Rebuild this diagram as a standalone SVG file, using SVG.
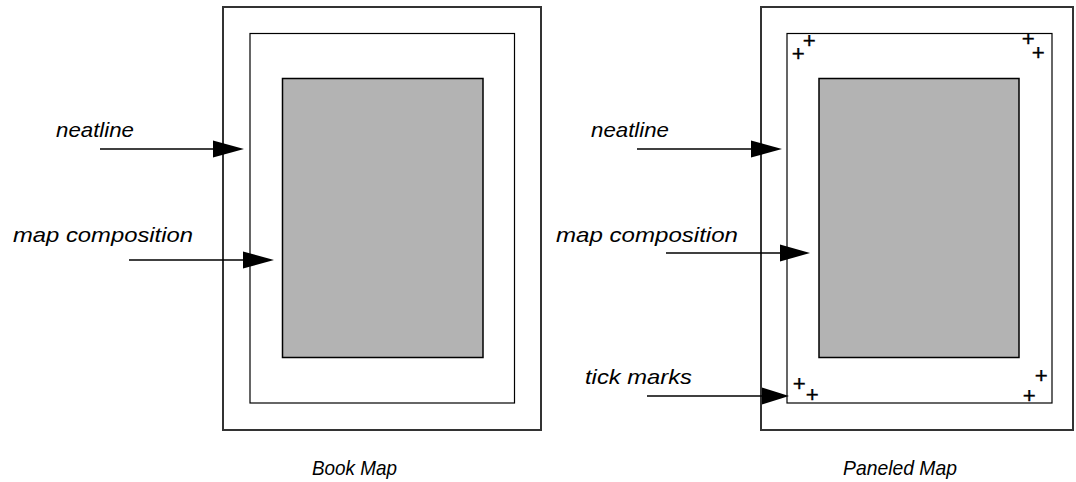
<svg xmlns="http://www.w3.org/2000/svg" width="1076" height="482" viewBox="0 0 1076 482">
<style>
.outer{fill:#fff;stroke:#333;stroke-width:2}
.inner{fill:#fff;stroke:#000;stroke-width:1.2}
.comp{fill:#b3b3b3;stroke:#000;stroke-width:1.5}
.lbl{font-family:"Liberation Sans",Arial,sans-serif;font-style:italic;font-size:21px;fill:#000}
.cap{font-family:"Liberation Sans",Arial,sans-serif;font-style:italic;font-size:21px;fill:#000}
.tick{font-family:"Liberation Sans",Arial,sans-serif;font-style:italic;font-size:22px;fill:#000;stroke:#000;stroke-width:0.4;text-anchor:middle}
.conn{stroke:#000;stroke-width:1.5;fill:none}
.head{fill:#000}
</style>
<rect width="1076" height="482" fill="#fff"/>
<g id="book-map">
<rect class="outer" x="223" y="7" width="318" height="423"/>
<rect class="inner" x="250" y="33.5" width="264.5" height="369.5"/>
<rect class="comp" x="282.5" y="78.5" width="200.5" height="279"/>
<text class="cap" x="312" y="475" textLength="85" lengthAdjust="spacingAndGlyphs">Book Map</text>
</g>
<g id="paneled-map">
<rect class="outer" x="761" y="7" width="312" height="423"/>
<rect class="inner" x="787" y="33.5" width="265" height="369.5"/>
<rect class="comp" x="819" y="78.5" width="200" height="279"/>
<g id="tick-marks">
<text class="tick" x="798" y="61">+</text>
<text class="tick" x="809" y="48">+</text>
<text class="tick" x="1028" y="46">+</text>
<text class="tick" x="1038" y="60">+</text>
<text class="tick" x="799" y="391">+</text>
<text class="tick" x="812" y="402">+</text>
<text class="tick" x="1041" y="383">+</text>
<text class="tick" x="1029" y="403">+</text>
</g>
<text class="cap" x="843" y="475" textLength="114" lengthAdjust="spacingAndGlyphs">Paneled Map</text>
</g>
<g id="labels">
<text class="lbl" x="56" y="137" textLength="78" lengthAdjust="spacingAndGlyphs">neatline</text>
<text class="lbl" x="13" y="242" textLength="180" lengthAdjust="spacingAndGlyphs">map composition</text>
<text class="lbl" x="591" y="137" textLength="78" lengthAdjust="spacingAndGlyphs">neatline</text>
<text class="lbl" x="556" y="242" textLength="182" lengthAdjust="spacingAndGlyphs">map composition</text>
<text class="lbl" x="585" y="384" textLength="107" lengthAdjust="spacingAndGlyphs">tick marks</text>
</g>
<g id="connectors">
<line class="conn" x1="100" y1="149" x2="215" y2="149"/>
<polygon class="head" points="213,140.5 244,149 213,157.5"/>
<line class="conn" x1="129" y1="260" x2="245" y2="260"/>
<polygon class="head" points="243,251.5 274,260 243,268.5"/>
<line class="conn" x1="637" y1="149" x2="753" y2="149"/>
<polygon class="head" points="751,140.5 782,149 751,157.5"/>
<line class="conn" x1="666" y1="253" x2="782" y2="253"/>
<polygon class="head" points="780,244.5 810,253 780,261.5"/>
<line class="conn" x1="647" y1="396" x2="764" y2="396"/>
<polygon class="head" points="762,387.5 789,396 762,404.5"/>
</g>
</svg>
